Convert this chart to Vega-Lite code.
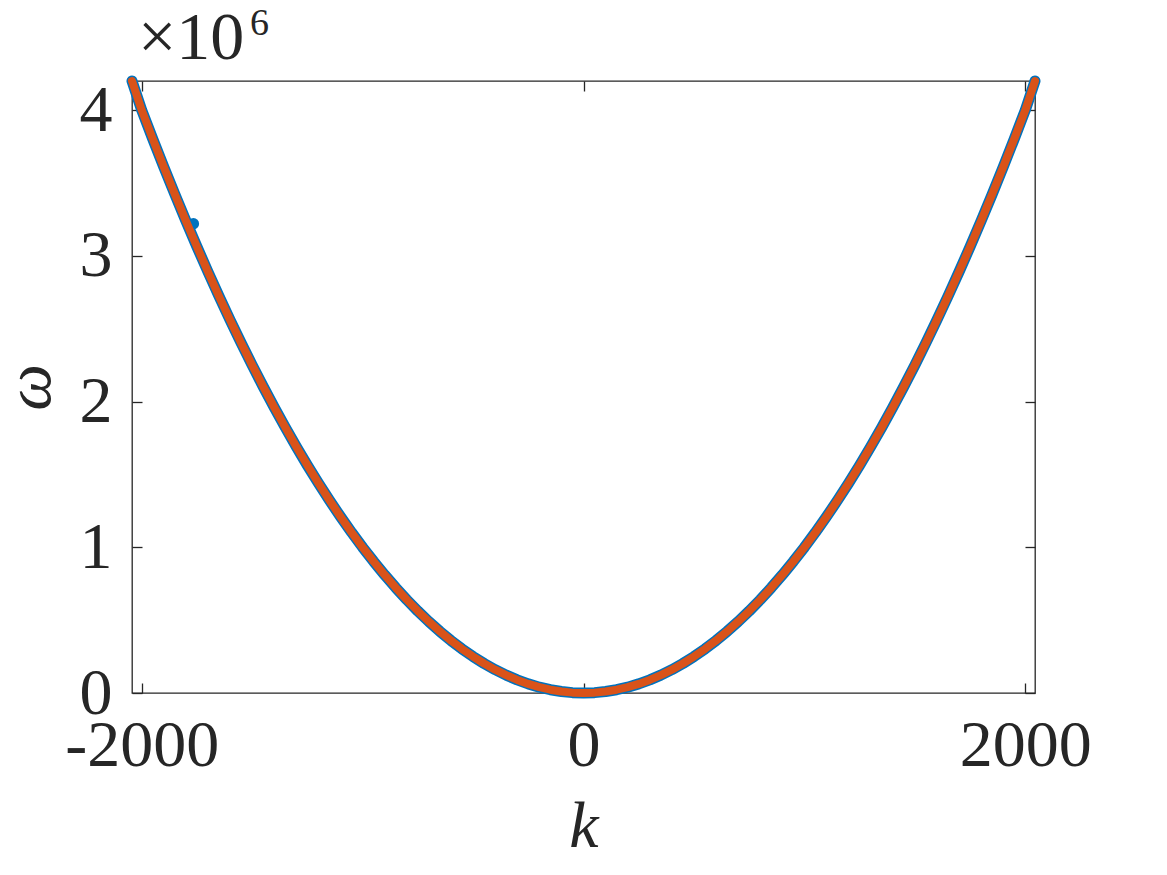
{
  "$schema": "https://vega.github.io/schema/vega-lite/v6.json",
  "width": 903,
  "height": 612,
  "autosize": "none",
  "padding": {"left": 132, "top": 81, "right": 132, "bottom": 182},
  "background": "white",
  "config": {
    "view": {"stroke": "#262626", "strokeWidth": 1.3},
    "font": "Liberation Serif"
  },
  "datasets": {
    "curve": [
      {"k": -2044, "omega": 4200000},
      {"k": -2000, "omega": 4000000},
      {"k": -1950, "omega": 3802500},
      {"k": -1900, "omega": 3610000},
      {"k": -1850, "omega": 3422500},
      {"k": -1800, "omega": 3240000},
      {"k": -1750, "omega": 3062500},
      {"k": -1700, "omega": 2890000},
      {"k": -1650, "omega": 2722500},
      {"k": -1600, "omega": 2560000},
      {"k": -1550, "omega": 2402500},
      {"k": -1500, "omega": 2250000},
      {"k": -1450, "omega": 2102500},
      {"k": -1400, "omega": 1960000},
      {"k": -1350, "omega": 1822500},
      {"k": -1300, "omega": 1690000},
      {"k": -1250, "omega": 1562500},
      {"k": -1200, "omega": 1440000},
      {"k": -1150, "omega": 1322500},
      {"k": -1100, "omega": 1210000},
      {"k": -1050, "omega": 1102500},
      {"k": -1000, "omega": 1000000},
      {"k": -950, "omega": 902500},
      {"k": -900, "omega": 810000},
      {"k": -850, "omega": 722500},
      {"k": -800, "omega": 640000},
      {"k": -750, "omega": 562500},
      {"k": -700, "omega": 490000},
      {"k": -650, "omega": 422500},
      {"k": -600, "omega": 360000},
      {"k": -550, "omega": 302500},
      {"k": -500, "omega": 250000},
      {"k": -450, "omega": 202500},
      {"k": -400, "omega": 160000},
      {"k": -350, "omega": 122500},
      {"k": -300, "omega": 90000},
      {"k": -250, "omega": 62500},
      {"k": -200, "omega": 40000},
      {"k": -150, "omega": 22500},
      {"k": -100, "omega": 10000},
      {"k": -50, "omega": 2500},
      {"k": 0, "omega": 0},
      {"k": 50, "omega": 2500},
      {"k": 100, "omega": 10000},
      {"k": 150, "omega": 22500},
      {"k": 200, "omega": 40000},
      {"k": 250, "omega": 62500},
      {"k": 300, "omega": 90000},
      {"k": 350, "omega": 122500},
      {"k": 400, "omega": 160000},
      {"k": 450, "omega": 202500},
      {"k": 500, "omega": 250000},
      {"k": 550, "omega": 302500},
      {"k": 600, "omega": 360000},
      {"k": 650, "omega": 422500},
      {"k": 700, "omega": 490000},
      {"k": 750, "omega": 562500},
      {"k": 800, "omega": 640000},
      {"k": 850, "omega": 722500},
      {"k": 900, "omega": 810000},
      {"k": 950, "omega": 902500},
      {"k": 1000, "omega": 1000000},
      {"k": 1050, "omega": 1102500},
      {"k": 1100, "omega": 1210000},
      {"k": 1150, "omega": 1322500},
      {"k": 1200, "omega": 1440000},
      {"k": 1250, "omega": 1562500},
      {"k": 1300, "omega": 1690000},
      {"k": 1350, "omega": 1822500},
      {"k": 1400, "omega": 1960000},
      {"k": 1450, "omega": 2102500},
      {"k": 1500, "omega": 2250000},
      {"k": 1550, "omega": 2402500},
      {"k": 1600, "omega": 2560000},
      {"k": 1650, "omega": 2722500},
      {"k": 1700, "omega": 2890000},
      {"k": 1750, "omega": 3062500},
      {"k": 1800, "omega": 3240000},
      {"k": 1850, "omega": 3422500},
      {"k": 1900, "omega": 3610000},
      {"k": 1950, "omega": 3802500},
      {"k": 2000, "omega": 4000000},
      {"k": 2044, "omega": 4200000}
    ],
    "outlier": [
      {"k": -1766, "omega": 3220000}
    ],
    "scaleNote": [
      {"k": -2044, "omega": 4200000, "base": "×10", "exp": "6"}
    ]
  },
  "layer": [
    {
      "data": {"name": "curve"},
      "mark": {"type": "line", "color": "#0072BD", "strokeWidth": 11, "strokeCap": "round", "strokeJoin": "round", "clip": false},
      "encoding": {
        "x": {
          "field": "k", "type": "quantitative",
          "scale": {"domain": [-2044, 2044], "nice": false, "zero": false},
          "axis": {
            "orient": "bottom", "values": [-2000, 0, 2000], "grid": false,
            "labelExpr": "datum.value < 0 ? '-' + format(-datum.value, 'd') : format(datum.value, 'd')",
            "labelLimit": 0,
            "domain": false, "tickSize": -10, "tickColor": "#262626", "tickWidth": 1.3,
            "labelFontSize": 66, "labelColor": "#262626", "labelFont": "Liberation Serif", "labelPadding": 30,
            "labelFlush": false,
            "title": "k", "titleFont": "Liberation Serif", "titleFontSize": 66, "titleFontStyle": "italic",
            "titleFontWeight": "normal", "titleColor": "#262626", "titlePadding": 16
          }
        },
        "y": {
          "field": "omega", "type": "quantitative",
          "scale": {"domain": [0, 4200000], "nice": false},
          "axis": {
            "orient": "left", "values": [0, 1000000, 2000000, 3000000, 4000000], "grid": false,
            "labelExpr": "format(datum.value / 1000000, 'd')",
            "labelLimit": 0,
            "domain": false, "tickSize": -10, "tickColor": "#262626", "tickWidth": 1.3,
            "labelFontSize": 66, "labelColor": "#262626", "labelFont": "Liberation Serif", "labelPadding": 30,
            "labelFlush": false,
            "title": "ω", "titleFont": "Liberation Serif", "titleFontSize": 66, "titleFontStyle": "italic",
            "titleFontWeight": "normal", "titleColor": "#262626", "titlePadding": 16
          }
        }
      }
    },
    {
      "data": {"name": "outlier"},
      "mark": {"type": "circle", "color": "#0072BD", "size": 130, "opacity": 1},
      "encoding": {
        "x": {"field": "k", "type": "quantitative", "axis": null},
        "y": {"field": "omega", "type": "quantitative", "axis": null}
      }
    },
    {
      "data": {"name": "curve"},
      "mark": {"type": "line", "color": "#D95319", "strokeWidth": 8, "strokeCap": "round", "strokeJoin": "round", "clip": false},
      "encoding": {
        "x": {
          "field": "k", "type": "quantitative",
          "axis": {"orient": "top", "values": [-2000, 0, 2000], "labels": false, "domain": false, "grid": false,
                   "tickSize": -10, "tickColor": "#262626", "tickWidth": 1.3, "title": null}
        },
        "y": {
          "field": "omega", "type": "quantitative",
          "axis": {"orient": "right", "values": [0, 1000000, 2000000, 3000000, 4000000], "labels": false, "domain": false, "grid": false,
                   "tickSize": -10, "tickColor": "#262626", "tickWidth": 1.3, "title": null}
        }
      }
    },
    {
      "data": {"name": "scaleNote"},
      "mark": {"type": "text", "align": "left", "baseline": "alphabetic", "dx": 6, "dy": -22,
               "font": "Liberation Serif", "fontSize": 68, "color": "#262626", "clip": false},
      "encoding": {
        "x": {"field": "k", "type": "quantitative", "axis": null},
        "y": {"field": "omega", "type": "quantitative", "axis": null},
        "text": {"field": "base"}
      }
    },
    {
      "data": {"name": "scaleNote"},
      "mark": {"type": "text", "align": "left", "baseline": "alphabetic", "dx": 118, "dy": -46,
               "font": "Liberation Serif", "fontSize": 38, "color": "#262626", "clip": false},
      "encoding": {
        "x": {"field": "k", "type": "quantitative", "axis": null},
        "y": {"field": "omega", "type": "quantitative", "axis": null},
        "text": {"field": "exp"}
      }
    }
  ],
  "resolve": {"axis": {"x": "independent", "y": "independent"}}
}
